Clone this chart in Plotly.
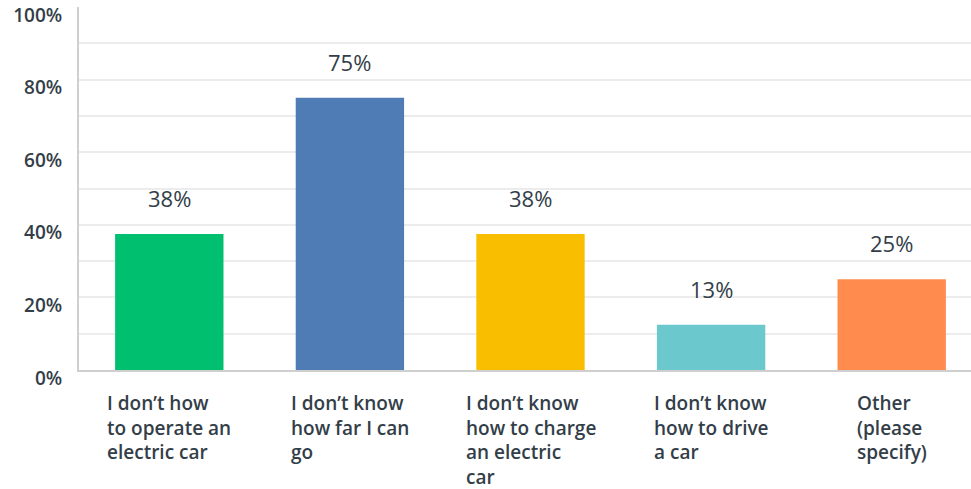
import plotly.graph_objects as go

categories = [
    "I don’t how<br>to operate an<br>electric car",
    "I don’t know<br>how far I can<br>go",
    "I don’t know<br>how to charge<br>an electric<br>car",
    "I don’t know<br>how to drive<br>a car",
    "Other<br>(please<br>specify)",
]
values = [37.5, 75.0, 37.5, 12.5, 25.0]
value_labels = ["38%", "75%", "38%", "13%", "25%"]
colors = ["#00bf6f", "#507cb6", "#f9be00", "#6bc8cd", "#ff8b4f"]
tick_vals = [0, 20, 40, 60, 80, 100]
tick_text = ["0%", "20%", "40%", "60%", "80%", "100%"]

TEXT = "#333e48"
FONT = "Open Sans"

fig = go.Figure()
fig.add_trace(go.Bar(
    x=categories, y=values, marker=dict(color=colors, line=dict(width=0)),
    width=0.6, hoverinfo="skip",
))

for c, v, t in zip(categories, values, value_labels):
    fig.add_annotation(x=c, y=v, text=t, showarrow=False, xref="x", yref="y",
                       yanchor="bottom", yshift=19,
                       font=dict(family=FONT, size=22, color=TEXT, weight=500))
    fig.add_annotation(x=c, y=0, text=c, showarrow=False, xref="x", yref="y",
                       yanchor="top", yshift=-18, align="left",
                       font=dict(family=FONT, size=19, color=TEXT, weight=600))

fig.update_layout(
    width=982, height=489,
    margin=dict(l=79, r=0, t=7, b=119, autoexpand=False),
    paper_bgcolor="white", plot_bgcolor="white",
    showlegend=False, bargap=0.4,
    font=dict(family=FONT, color=TEXT),
)
fig.update_xaxes(showticklabels=False, showgrid=False, showline=True, automargin=False,
                 linecolor="#cfcfcf", linewidth=2, zeroline=False, ticks="")
fig.update_yaxes(range=[0, 100], tickmode="array", tickvals=tick_vals, ticktext=tick_text,
                 automargin=False, ticklabeloverflow="allow",
                 showgrid=True, gridcolor="#ececec", gridwidth=1.5,
                 minor=dict(dtick=10, tick0=0, showgrid=True, gridcolor="#ececec", gridwidth=1.5),
                 showline=True, linecolor="#cfcfcf", linewidth=2, zeroline=False,
                 ticks="", ticklabelstandoff=11, ticklabelshift=8,
                 tickfont=dict(family=FONT, size=19, color=TEXT, weight=600))

fig.write_html("out.html", config={"displayModeBar": False},
               post_script="document.body.style.margin='0';document.body.style.overflow='hidden';")
